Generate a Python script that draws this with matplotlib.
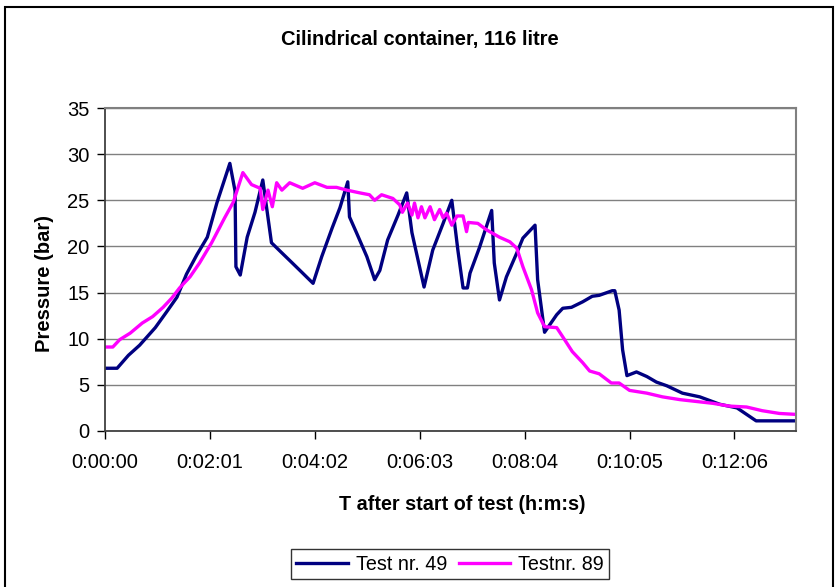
import matplotlib
matplotlib.use("Agg")
import matplotlib.pyplot as plt
from matplotlib.ticker import FuncFormatter, MultipleLocator
from matplotlib.patches import Rectangle

# ---- data (time in seconds after start, pressure in bar) ----
t49 = [0, 14, 27, 40, 58, 71, 83, 94, 106, 118, 129, 144, 150, 151, 156, 164, 173, 182,
       192, 204, 215, 227, 240, 250, 262, 271, 280, 282, 290, 302, 311, 317, 326, 338, 348,
       354, 368, 378, 390, 400, 407, 413, 418, 421, 432, 446, 449, 455, 463, 475, 482, 496,
       499, 507, 521, 528, 538, 551, 562, 570, 585, 588, 593, 597, 602, 613, 625, 636, 648,
       666, 686, 709, 729, 751, 797]
p49 = [6.8, 6.8, 8.2, 9.3, 11.2, 12.9, 14.5, 17.0, 19.1, 21.0, 24.7, 29.0, 26.0, 17.8, 16.9,
       21.0, 23.7, 27.2, 20.4, 19.3, 18.3, 17.2, 16.0, 18.9, 22.0, 24.2, 27.0, 23.2, 21.5, 18.9,
       16.4, 17.4, 20.7, 23.4, 25.8, 21.5, 15.6, 19.6, 22.5, 25.0, 19.6, 15.5, 15.5, 17.1, 19.9,
       23.9, 18.2, 14.2, 16.7, 19.3, 20.9, 22.3, 16.4, 10.7, 12.6, 13.3, 13.4, 14.0, 14.6, 14.7,
       15.2, 15.2, 13.1, 8.8, 6.0, 6.4, 5.9, 5.3, 4.9, 4.1, 3.7, 2.9, 2.5, 1.1, 1.1]

t89 = [0, 9, 17, 29, 43, 55, 67, 77, 86, 98, 109, 123, 138, 148, 159, 169, 179, 182, 188,
       193, 198, 204, 213, 228, 242, 256, 267, 279, 294, 305, 311, 319, 332, 340, 343, 349,
       354, 357, 361, 365, 369, 375, 380, 386, 390, 394, 400, 406, 413, 417, 419, 430, 440,
       455, 467, 475, 482, 492, 499, 507, 521, 528, 539, 551, 559, 570, 584, 593, 605, 625,
       643, 663, 682, 701, 720, 740, 758, 778, 797]
p89 = [9.1, 9.1, 9.9, 10.6, 11.7, 12.4, 13.4, 14.4, 15.5, 16.7, 18.2, 20.4, 23.1, 24.8, 28.0,
       26.7, 26.3, 24.0, 26.1, 24.3, 26.9, 26.1, 26.9, 26.3, 26.9, 26.4, 26.4, 26.1, 25.8, 25.6,
       25.0, 25.6, 25.2, 24.5, 23.7, 24.7, 23.4, 24.7, 23.1, 24.3, 23.1, 24.3, 22.9, 24.0, 23.1,
       23.6, 22.3, 23.3, 23.3, 21.6, 22.6, 22.5, 21.8, 21.0, 20.5, 19.8, 17.8, 15.3, 12.8, 11.3,
       11.2, 10.2, 8.6, 7.4, 6.5, 6.2, 5.2, 5.2, 4.4, 4.1, 3.7, 3.4, 3.2, 3.0, 2.7, 2.6, 2.2,
       1.9, 1.8]

series_names = ["Test nr. 49", "Testnr. 89"]
title = "Cilindrical container, 116 litre"
xlabel = "T after start of test (h:m:s)"
ylabel = "Pressure (bar)"

plt.rcParams['font.family'] = ['Liberation Sans', 'DejaVu Sans']

W, H = 838, 587
fig = plt.figure(figsize=(W / 100, H / 100), dpi=100)
ax = fig.add_axes([105 / W, 1 - 431 / H, (796 - 105) / W, (431 - 108) / H])

ax.plot(t49, p49, color="#000080", lw=2.4, label=series_names[0], solid_joinstyle="round")
ax.plot(t89, p89, color="#FF00FF", lw=2.4, label=series_names[1], solid_joinstyle="round")

ax.set_xlim(0, 797)
ax.set_ylim(0, 35)
ax.yaxis.set_major_locator(MultipleLocator(5))
ax.xaxis.set_major_locator(MultipleLocator(121))


def hms(v, pos):
    v = int(round(v))
    return f"{v // 3600}:{(v % 3600) // 60:02d}:{v % 60:02d}"


ax.xaxis.set_major_formatter(FuncFormatter(hms))
ax.grid(axis="y", color="#808080", lw=1)
ax.set_axisbelow(True)
for s in ["top", "right"]:
    ax.spines[s].set_color("#808080")
    ax.spines[s].set_linewidth(1.5)
for s in ["left", "bottom"]:
    ax.spines[s].set_color("#404040")
    ax.spines[s].set_linewidth(1.3)
ax.tick_params(axis="both", direction="out", length=6, width=1, colors="black",
               labelsize=14.5)
ax.tick_params(axis="x", pad=10)
ax.tick_params(axis="y", pad=5)

fig.text(420 / W, 1 - 40 / H, title, ha="center", va="center", fontsize=14.5,
         fontweight="bold")
fig.text(462 / W, 1 - 505 / H, xlabel, ha="center", va="center", fontsize=14.2,
         fontweight="bold")
fig.text(45 / W, 1 - 284 / H, ylabel, ha="center", va="center", fontsize=14.5,
         fontweight="bold", rotation=90)

leg = fig.legend(loc="center", bbox_to_anchor=(450 / W, 1 - 564 / H), ncol=2,
                 frameon=True, fancybox=False, edgecolor="black", fontsize=14.2,
                 handlelength=2.6, columnspacing=0.6, handletextpad=0.4,
                 borderpad=0.3)
leg.get_frame().set_linewidth(1)

fig.patches.append(Rectangle((5 / W, -0.05), (833 - 5) / W, 1.05 - 7 / H,
                             transform=fig.transFigure, fill=False,
                             edgecolor="black", lw=1.5))

fig.savefig("out.png", dpi=100)
